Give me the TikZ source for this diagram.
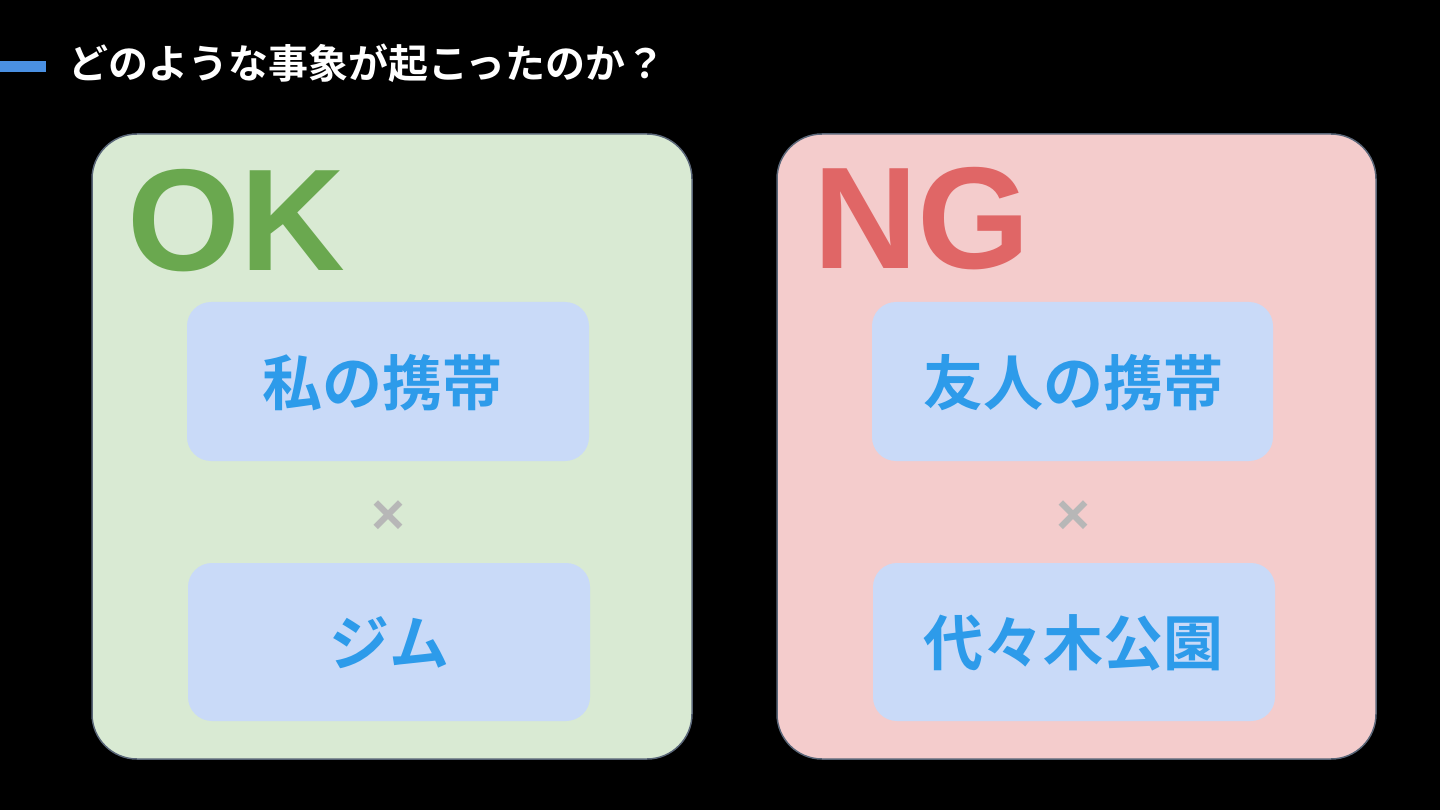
\documentclass[tikz,border=0pt]{standalone}
\usepackage{fontspec}
\setmainfont{Liberation Sans}
\newfontfamily\cjk{Noto Sans CJK JP}[BoldFont={Noto Sans CJK JP Bold}]
\newfontfamily\latinb{Liberation Sans}
\definecolor{bgblack}{HTML}{000000}
\definecolor{barblue}{HTML}{4A90E2}
\definecolor{okfill}{HTML}{D9EAD3}
\definecolor{ngfill}{HTML}{F4CCCC}
\definecolor{okgreen}{HTML}{6AA84F}
\definecolor{ngred}{HTML}{E06666}
\definecolor{innerfill}{HTML}{C9DAF8}
\definecolor{itemblue}{HTML}{2D9BEA}
\definecolor{edgegray}{HTML}{5A6678}
\definecolor{crossgray}{HTML}{B7B7B7}
\begin{document}
\begin{tikzpicture}[x=1pt,y=-1pt,
  outerbox/.style={draw=edgegray,line width=1.5pt,rounded corners=45pt},
  innerbox/.style={fill=innerfill,rounded corners=24pt},
  itemtext/.style={font=\cjk\bfseries\fontsize{60}{62}\selectfont,text=itemblue,inner sep=0pt},
  bigword/.style={font=\latinb\bfseries\fontsize{145}{150}\selectfont,inner sep=0pt,anchor=base west},
  crosstext/.style={font=\latinb\bfseries\fontsize{58}{60}\selectfont,text=crossgray,inner sep=0pt}]
\fill[bgblack] (0,0) rectangle (1440,810);
\useasboundingbox (0,0) rectangle (1440,810);
% title
\fill[barblue] (0,61) rectangle (46,72);
\node[anchor=west,inner sep=0pt,text=white,font=\cjk\bfseries\fontsize{40}{42}\selectfont] (title) at (68,63) {どのような事象が起こったのか？};
% OK panel
\path[outerbox,fill=okfill] (92,134) rectangle (692,759);
\node[bigword,text=okgreen] (ok) at (127,271) {OK};
\path[innerbox] (187,302) rectangle (589,461);
\node[itemtext] (a1) at (382,383) {私の携帯};
\node[crosstext] (x1) at (388,518) {×};
\path[innerbox] (188,563) rectangle (590,721);
\node[itemtext] (a2) at (389,643) {ジム};
% NG panel
\path[outerbox,fill=ngfill] (777,134) rectangle (1376,759);
\node[bigword,text=ngred] (ng) at (813,269) {NG};
\path[innerbox] (872,302) rectangle (1273,461);
\node[itemtext] (b1) at (1073,383) {友人の携帯};
\node[crosstext] (x2) at (1073,518) {×};
\path[innerbox] (873,563) rectangle (1275,721);
\node[itemtext] (b2) at (1073,643) {代々木公園};
\end{tikzpicture}
\end{document}
